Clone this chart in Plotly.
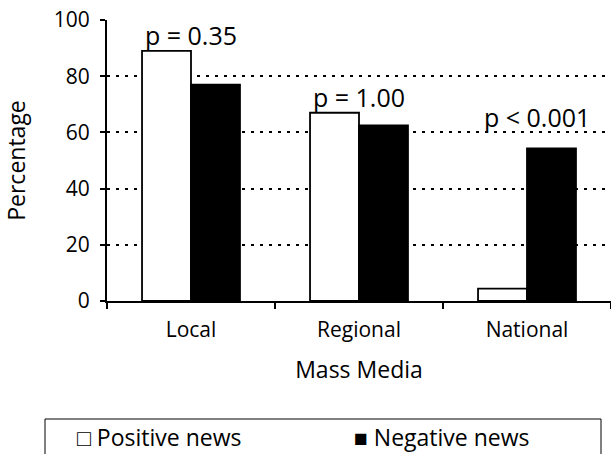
import plotly.graph_objects as go

categories = ["Local", "Regional", "National"]
positive_news = [89.0, 67.0, 4.4]
negative_news = [77.0, 62.5, 54.3]
p_labels = ["p = 0.35", "p = 1.00", "p < 0.001"]
p_label_y = [94.5, 72.5, 65.5]
y_ticks = [0, 20, 40, 60, 80, 100]
legend_labels = ["□ Positive news", "■ Negative news"]

FONT = "Open Sans"
W, H = 611, 454
ML, MR, MT, MB = 107, 0, 20, 153
PW, PH = W - ML - MR, H - MT - MB


def px_to_paper_x(px):
    return (px - ML) / PW


def px_to_paper_y(py):
    return (H - MB - py) / PH


fig = go.Figure()
fig.add_trace(go.Bar(
    x=categories, y=positive_news, name="Positive news",
    marker=dict(color="white", line=dict(color="black", width=1.8)),
))
fig.add_trace(go.Bar(
    x=categories, y=negative_news, name="Negative news",
    marker=dict(color="black", line=dict(color="black", width=1.8)),
))

for i, (c, t, yv) in enumerate(zip(categories, p_labels, p_label_y)):
    fig.add_annotation(
        x=c, y=yv, text=t, showarrow=False,
        xshift=10 if i == 2 else 0,
        font=dict(family=FONT, size=25, color="black"),
    )

# legend box drawn as in the reference (text glyph markers inside a framed box)
fig.add_shape(
    type="rect", xref="paper", yref="paper",
    x0=px_to_paper_x(45), x1=px_to_paper_x(601),
    y0=px_to_paper_y(470), y1=px_to_paper_y(419),
    line=dict(color="black", width=1), fillcolor="rgba(0,0,0,0)", layer="above",
)
for lbl, px in zip(legend_labels, [75, 352]):
    fig.add_annotation(
        xref="paper", yref="paper", x=px_to_paper_x(px), y=px_to_paper_y(437),
        xanchor="left", yanchor="middle", text=lbl, showarrow=False,
        font=dict(family=FONT, size=23, color="black"),
    )

fig.update_layout(
    width=W, height=H,
    margin=dict(l=ML, r=MR, t=MT, b=MB, autoexpand=False),
    paper_bgcolor="white", plot_bgcolor="white",
    barmode="group", bargap=0.417, bargroupgap=0,
    font=dict(family=FONT, color="black"),
    showlegend=False,
    xaxis=dict(
        showline=True, linecolor="black", linewidth=2,
        ticks="outside", ticklen=6, tickwidth=2, tickcolor="black",
        tickson="boundaries", ticklabelstandoff=9,
        tickfont=dict(family=FONT, size=21, color="black"),
        title=dict(text="Mass Media", font=dict(family=FONT, size=23, color="black"), standoff=20),
        showgrid=False, automargin=False,
    ),
    yaxis=dict(
        range=[0, 100], tickvals=y_ticks,
        showline=True, linecolor="black", linewidth=2,
        ticks="outside", ticklen=5, tickwidth=2, tickcolor="black",
        ticklabelstandoff=6,
        tickfont=dict(family=FONT, size=21, color="black"),
        title=dict(text="Percentage", font=dict(family=FONT, size=23, color="black"), standoff=27),
        showgrid=True, gridcolor="black", gridwidth=1.6, griddash="3px,6px",
        zeroline=False, automargin=False,
    ),
)

fig.write_html(
    "out.html",
    config={"displayModeBar": False},
    post_script="document.body.style.margin='0';document.body.style.overflow='hidden';",
)
